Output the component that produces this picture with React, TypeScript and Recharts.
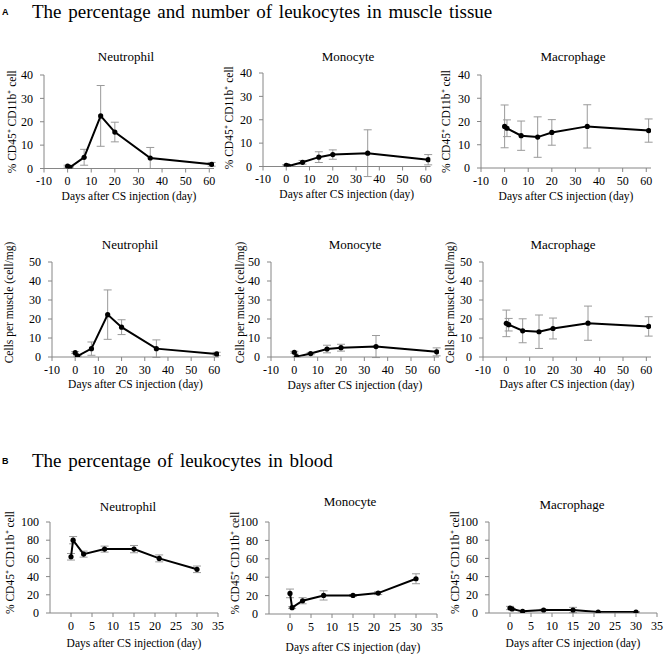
import { ErrorBar, Label, Line, LineChart, XAxis, YAxis } from 'recharts'

// days of sampling
const muscleDays = [0, 1, 7, 14, 20, 35, 61]
const bloodDays = [0, 0.5, 3, 8, 15, 21, 30]

// axis ticks
const muscleXTicks = [-10, 0, 10, 20, 30, 40, 50, 60]
const bloodXTicks = [0, 5, 10, 15, 20, 25, 30, 35]
const pctYTicks = [0, 10, 20, 30, 40]
const cellYTicks = [0, 10, 20, 30, 40, 50]
const bloodYTicks = [0, 20, 40, 60, 80, 100]

// A: muscle, % of CD45+ CD11b+ cells (mean, sd)
const neutPct = [1.0, 0.5, 4.8, 22.5, 15.6, 4.5, 1.8]
const neutPctErr = [0.4, 0.3, 3.4, 13.0, 4.2, 4.5, 0.8]
const monoPct = [0.5, 0.2, 1.8, 4.0, 5.1, 5.7, 2.9]
const monoPctErr = [0.3, 0.2, 0.8, 2.3, 2.0, 10.0, 2.2]
const macroPct = [17.9, 17.1, 13.9, 13.3, 15.3, 17.9, 16.1]
const macroPctErr = [9.2, 3.6, 6.3, 8.7, 5.5, 9.3, 5.0]

// A: muscle, cells per mg
const neutCell = [2.3, 0.5, 4.4, 22.3, 15.7, 4.4, 1.6]
const neutCellErr = [0.5, 0.3, 3.5, 13.0, 3.9, 4.6, 0.9]
const monoCell = [2.5, 0.2, 1.8, 4.2, 4.9, 5.5, 2.7]
const monoCellErr = [0.5, 0.2, 0.6, 2.0, 1.8, 5.8, 2.1]
const macroCell = [17.7, 17.0, 13.8, 13.3, 15.0, 17.8, 16.1]
const macroCellErr = [7.0, 3.3, 6.3, 8.8, 5.5, 9.0, 5.1]

// B: blood, % of CD45+ CD11b+ cells
const neutBlood = [61.8, 80.0, 64.7, 70.2, 70.2, 60.0, 48.0]
const neutBloodErr = [3.6, 4.0, 3.3, 3.3, 4.0, 3.8, 3.6]
const monoBlood = [22.4, 6.9, 14.4, 20.2, 20.2, 22.7, 38.3]
const monoBloodErr = [4.7, 1.0, 3.3, 5.0, 1.0, 1.6, 5.4]
const macroBlood = [5.5, 4.4, 1.8, 3.3, 3.3, 1.1, 1.1]
const macroBloodErr = [1.8, 0.4, 0.7, 0.8, 2.9, 0.4, 0.4]

const AXIS = '#868686'
const FONT = '"Liberation Serif", "Times New Roman", serif'
const PAD_L = 60
const PAD_T = 30
const PAD_R = 12
const AXIS_H = 50

const PCT_LABEL = '% CD45\u207A CD11b\u207A cell'
const CELL_LABEL = 'Cells per muscle (cell/mg)'

type PanelProps = {
  title: string
  titleX: number
  titleY: number
  days: number[]
  values: number[]
  errors: number[]
  x0: number
  x1: number
  yTop: number
  yBot: number
  xDomain: [number, number]
  xTicks: number[]
  yDomain: [number, number]
  yTicks: number[]
  yLabel: string
  yLabelGap: number
  yLabelShift: number
  xLabelGap: number
}

const tickStyle = { fill: '#000', fontSize: 12, fontFamily: FONT }

function Panel(p: PanelProps) {
  const rows = p.days.map((d, i) => ({ day: d, value: p.values[i], err: p.errors[i] }))
  const w = p.x1 - p.x0 + PAD_L + PAD_R
  const h = p.yBot - p.yTop + PAD_T + AXIS_H
  return (
    <>
      <div
        style={{
          position: 'absolute',
          left: p.titleX - 60,
          top: p.titleY - 9,
          width: 120,
          textAlign: 'center',
          fontSize: 13,
          lineHeight: '18px',
        }}
      >
        {p.title}
      </div>
      <div style={{ position: 'absolute', left: p.x0 - PAD_L, top: p.yTop - PAD_T }}>
        <LineChart
          width={w}
          height={h}
          data={rows}
          margin={{ top: PAD_T, right: PAD_R, bottom: 0, left: 0 }}
          style={{ fontFamily: FONT }}
        >
          <XAxis
            type="number"
            dataKey="day"
            domain={p.xDomain}
            ticks={p.xTicks}
            interval={0}
            allowDataOverflow
            height={AXIS_H}
            stroke={AXIS}
            tick={tickStyle}
            tickSize={4}
            tickMargin={4}
          >
            <Label
              value="Days after CS injection (day)"
              position="center"
              dy={p.xLabelGap - AXIS_H / 2}
              fill="#000"
              fontSize={11.5}
              fontFamily={FONT}
            />
          </XAxis>
          <YAxis
            type="number"
            domain={p.yDomain}
            ticks={p.yTicks}
            interval={0}
            allowDataOverflow
            width={PAD_L}
            stroke={AXIS}
            tick={tickStyle}
            tickSize={4}
            tickMargin={7}
          >
            <Label
              value={p.yLabel}
              position="center"
              angle={-90}
              dx={PAD_L / 2 - p.yLabelGap}
              dy={p.yLabelShift}
              fill="#000"
              fontSize={11.5}
              fontFamily={FONT}
            />
          </YAxis>
          <Line
            type="linear"
            dataKey="value"
            stroke="#000"
            strokeWidth={2}
            dot={{ r: 2.6, fill: '#000', stroke: '#000', strokeWidth: 0 }}
            activeDot={false}
            isAnimationActive={false}
          >
            <ErrorBar
              dataKey="err"
              direction="y"
              width={4}
              stroke="#9a9a9a"
              strokeWidth={1}
              isAnimationActive={false}
            />
          </Line>
        </LineChart>
      </div>
    </>
  )
}

const muscleX: [number, number] = [-10, 62]
const bloodX: [number, number] = [-5, 35]

const panels: PanelProps[] = [
  {
    title: 'Neutrophil', titleX: 126, titleY: 57,
    days: muscleDays, values: neutPct, errors: neutPctErr,
    x0: 44, x1: 214, yTop: 75, yBot: 168.5,
    xDomain: muscleX, xTicks: muscleXTicks, yDomain: [0, 40], yTicks: pctYTicks,
    yLabel: PCT_LABEL, yLabelGap: 32, yLabelShift: 0, xLabelGap: 27,
  },
  {
    title: 'Monocyte', titleX: 348, titleY: 57,
    days: muscleDays, values: monoPct, errors: monoPctErr,
    x0: 262.5, x1: 430, yTop: 72.5, yBot: 166,
    xDomain: muscleX, xTicks: muscleXTicks, yDomain: [0, 40], yTicks: pctYTicks,
    yLabel: PCT_LABEL, yLabelGap: 34, yLabelShift: -2, xLabelGap: 27,
  },
  {
    title: 'Macrophage', titleX: 573, titleY: 57,
    days: muscleDays, values: macroPct, errors: macroPctErr,
    x0: 481, x1: 651, yTop: 75, yBot: 168,
    xDomain: muscleX, xTicks: muscleXTicks, yDomain: [0, 40], yTicks: pctYTicks,
    yLabel: PCT_LABEL, yLabelGap: 35, yLabelShift: 0, xLabelGap: 28,
  },
  {
    title: 'Neutrophil', titleX: 130, titleY: 245,
    days: muscleDays, values: neutCell, errors: neutCellErr,
    x0: 52, x1: 219, yTop: 262, yBot: 357,
    xDomain: muscleX, xTicks: muscleXTicks, yDomain: [0, 50], yTicks: cellYTicks,
    yLabel: CELL_LABEL, yLabelGap: 43, yLabelShift: -7, xLabelGap: 27,
  },
  {
    title: 'Monocyte', titleX: 355, titleY: 245,
    days: muscleDays, values: monoCell, errors: monoCellErr,
    x0: 271, x1: 439, yTop: 262, yBot: 357,
    xDomain: muscleX, xTicks: muscleXTicks, yDomain: [0, 50], yTicks: cellYTicks,
    yLabel: CELL_LABEL, yLabelGap: 31, yLabelShift: -7, xLabelGap: 28,
  },
  {
    title: 'Macrophage', titleX: 563, titleY: 245,
    days: muscleDays, values: macroCell, errors: macroCellErr,
    x0: 483, x1: 651, yTop: 262, yBot: 357,
    xDomain: muscleX, xTicks: muscleXTicks, yDomain: [0, 50], yTicks: cellYTicks,
    yLabel: CELL_LABEL, yLabelGap: 33, yLabelShift: -7, xLabelGap: 27,
  },
  {
    title: 'Neutrophil', titleX: 128, titleY: 507,
    days: bloodDays, values: neutBlood, errors: neutBloodErr,
    x0: 50, x1: 218, yTop: 522, yBot: 613,
    xDomain: bloodX, xTicks: bloodXTicks, yDomain: [0, 100], yTicks: bloodYTicks,
    yLabel: PCT_LABEL, yLabelGap: 40, yLabelShift: -5, xLabelGap: 30,
  },
  {
    title: 'Monocyte', titleX: 350, titleY: 502,
    days: bloodDays, values: monoBlood, errors: monoBloodErr,
    x0: 269, x1: 437, yTop: 522, yBot: 614,
    xDomain: bloodX, xTicks: bloodXTicks, yDomain: [0, 100], yTicks: bloodYTicks,
    yLabel: PCT_LABEL, yLabelGap: 34, yLabelShift: -5, xLabelGap: 33,
  },
  {
    title: 'Macrophage', titleX: 572, titleY: 505,
    days: bloodDays, values: macroBlood, errors: macroBloodErr,
    x0: 489, x1: 657, yTop: 522, yBot: 613,
    xDomain: bloodX, xTicks: bloodXTicks, yDomain: [0, 100], yTicks: bloodYTicks,
    yLabel: PCT_LABEL, yLabelGap: 34, yLabelShift: -5, xLabelGap: 30,
  },
]

function SectionTitle({ letter, text, top }: { letter: string; text: string; top: number }) {
  return (
    <>
      <div
        style={{
          position: 'absolute',
          left: 2,
          top: top - 6,
          fontFamily: '"Liberation Sans", Arial, sans-serif',
          fontWeight: 700,
          fontSize: 9,
          lineHeight: '12px',
        }}
      >
        {letter}
      </div>
      <div
        style={{
          position: 'absolute',
          left: 32,
          top: top - 12,
          fontSize: 19,
          lineHeight: '24px',
          wordSpacing: 2,
          whiteSpace: 'nowrap',
        }}
      >
        {text}
      </div>
    </>
  )
}

export default function App() {
  return (
    <div
      style={{
        position: 'absolute',
        left: 0,
        top: 0,
        width: 666,
        height: 656,
        background: '#fff',
        fontFamily: FONT,
        color: '#000',
        overflow: 'hidden',
      }}
    >
      <SectionTitle letter="A" text="The percentage and number of leukocytes in muscle tissue" top={12} />
      <SectionTitle letter="B" text="The percentage of leukocytes in blood" top={461} />
      {panels.map((p, i) => (
        <Panel key={i} {...p} />
      ))}
    </div>
  )
}
